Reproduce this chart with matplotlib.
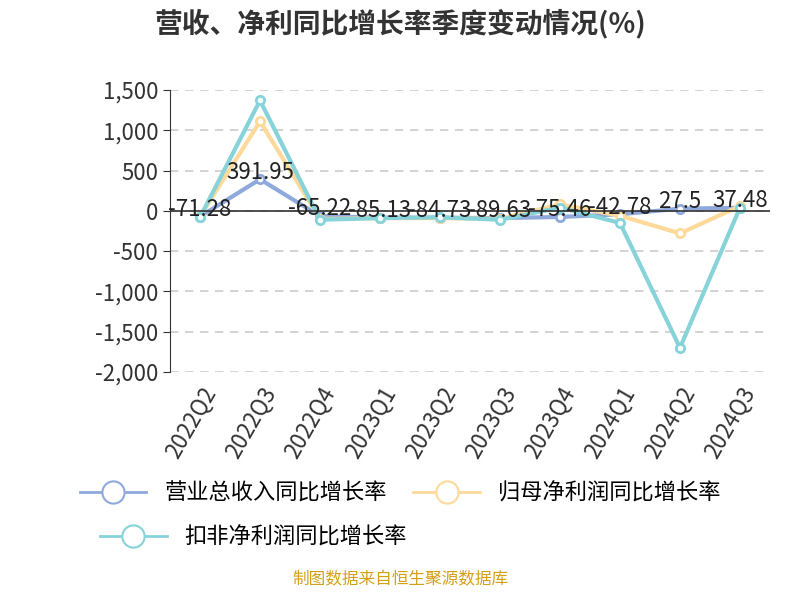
import matplotlib
matplotlib.use('Agg')
import matplotlib.pyplot as plt
from matplotlib.lines import Line2D

plt.rcParams['font.family'] = ['Noto Sans CJK SC', 'DejaVu Sans']

quarters = ['2022Q2','2022Q3','2022Q4','2023Q1','2023Q2','2023Q3','2023Q4','2024Q1','2024Q2','2024Q3']
revenue = [-71.28, 391.95, -65.22, -85.13, -84.73, -89.63, -75.46, -42.78, 27.5, 37.48]
net_profit = [-70, 1110, -100, -90, -90, -100, 80, -60, -280, 60]
deducted = [-80, 1370, -110, -90, -80, -110, 40, -150, -1700, 40]
labels = ['-71.28','391.95','-65.22','-85.13','-84.73','-89.63','-75.46','-42.78','27.5','37.48']
series_names = ['营业总收入同比增长率', '归母净利润同比增长率', '扣非净利润同比增长率']
colors = ['#8fa9dc', '#fdd99a', '#86d3d9']

fig = plt.figure(figsize=(8, 6), dpi=100)
ax = fig.add_axes([0.2125, 0.38, 0.75, 0.47])
x = list(range(len(quarters)))
for ys, c in zip([revenue, net_profit, deducted], colors):
    ax.plot(x, ys, color=c, lw=3, marker='o', ms=6, mfc='white', mec=c, mew=2, zorder=3)
for xi, yi, t in zip(x, revenue, labels):
    ax.text(xi, yi + 90, t, ha='center', va='center', fontsize=16, color='#222', zorder=5)

ax.set_xlim(-0.5, 9.5)
ax.set_ylim(-2000, 1500)
ax.set_yticks(range(-2000, 1501, 500))
ax.set_yticklabels([f'{v:,}' for v in range(-2000, 1501, 500)], fontsize=16, color='#333')
ax.set_xticks(x)
ax.set_xticklabels(quarters, rotation=60, ha='right', rotation_mode='anchor', fontsize=16, color='#333')
ax.grid(axis='y', ls=(0, (5, 4)), color='#ccc', lw=1.2)
for s in ['top', 'right', 'bottom']:
    ax.spines[s].set_visible(False)
ax.spines['left'].set_color('#333')
ax.axhline(0, color='#333', lw=1.2, zorder=4)
ax.tick_params(axis='x', length=0, pad=8)
ax.tick_params(axis='y', length=5, color='#333')

fig.text(0.5, 0.96, '营收、净利同比增长率季度变动情况(%)', ha='center', va='center', fontsize=20, weight='bold', color='#333')
handles = [Line2D([], [], color=c, lw=2, marker='o', ms=16, mfc='white', mec=c, mew=1.5) for c in colors]
fig.legend(handles[:2], series_names[:2], loc='center', bbox_to_anchor=(0.5, 0.178), ncol=2, frameon=False,
           fontsize=16, handlelength=3, columnspacing=1.2)
fig.legend(handles[2:], series_names[2:], loc='center left', bbox_to_anchor=(0.1, 0.105), frameon=False,
           fontsize=16, handlelength=3)
fig.text(0.5, 0.02, '制图数据来自恒生聚源数据库', ha='center', va='bottom', fontsize=12, color='#d4a017')
fig.savefig('out.png')
